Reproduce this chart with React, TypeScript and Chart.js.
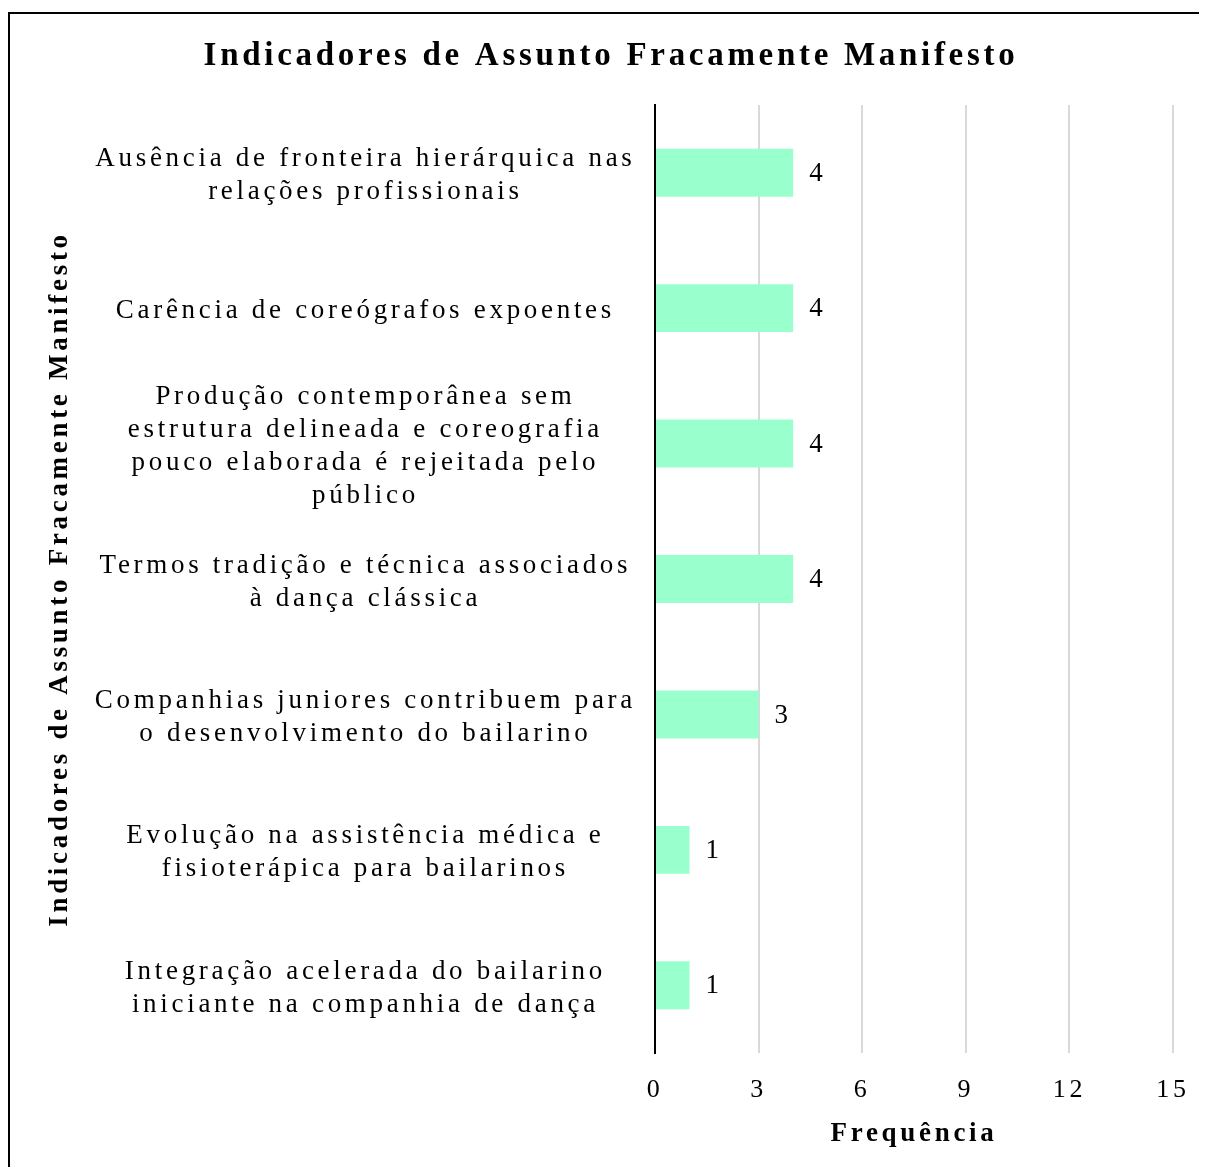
import React, { useEffect, useRef } from "react";
import { Chart, registerables } from "chart.js";

Chart.register(...registerables);

const categories: (string | string[])[] = [
  ["Ausência de fronteira hierárquica nas", "relações profissionais"],
  "Carência de coreógrafos expoentes",
  ["Produção contemporânea sem", "estrutura delineada e coreografia", "pouco elaborada é rejeitada pelo", "público"],
  ["Termos tradição e técnica associados", "à dança clássica"],
  ["Companhias juniores contribuem para", "o desenvolvimento do bailarino"],
  ["Evolução na assistência médica e", "fisioterápica para bailarinos"],
  ["Integração acelerada do bailarino", "iniciante na companhia de dança"],
];
const frequencies: number[] = [4, 4, 4, 4, 3, 1, 1];
const chartTitle = "Indicadores de Assunto Fracamente Manifesto";
const xAxisTitle = "Frequência";
const yAxisTitle = "Indicadores de Assunto Fracamente Manifesto";
const xMin = 0;
const xMax = 15;
const xStep = 3;

const SERIF = "'Liberation Serif', 'Times New Roman', Times, serif";
const SPACING = "3.7px";

const spacingPlugin = {
  id: "spacing",
  beforeUpdate(chart: any) {
    chart.ctx.letterSpacing = SPACING;
  },
  beforeLayout(chart: any) {
    chart.ctx.letterSpacing = SPACING;
  },
  beforeDraw(chart: any) {
    chart.ctx.letterSpacing = SPACING;
  },
};

const valueLabelPlugin = {
  id: "valueLabels",
  afterDatasetsDraw(chart: any) {
    const ctx = chart.ctx;
    const meta = chart.getDatasetMeta(0);
    ctx.save();
    ctx.letterSpacing = "0px";
    ctx.font = `27px ${SERIF}`;
    ctx.fillStyle = "#000";
    ctx.textAlign = "left";
    ctx.textBaseline = "middle";
    meta.data.forEach((bar: any, i: number) => {
      ctx.fillText(String(frequencies[i]), bar.x + 16, bar.y + 1);
    });
    ctx.restore();
  },
};

export default function App() {
  const ref = useRef<HTMLCanvasElement>(null);
  useEffect(() => {
    document.body.style.overflow = "hidden";
    const chart = new Chart(ref.current!, {
      type: "bar",
      data: {
        labels: categories,
        datasets: [
          {
            data: frequencies,
            backgroundColor: "#99ffcc",
            categoryPercentage: 1,
            barPercentage: 0.354,
          },
        ],
      },
      options: {
        indexAxis: "y",
        responsive: false,
        animation: false,
        layout: { padding: { left: 5, right: 0, top: 0, bottom: 0 } },
        plugins: {
          legend: { display: false },
          tooltip: { enabled: false },
          title: {
            display: true,
            text: chartTitle,
            color: "#000",
            font: { family: SERIF, size: 33, weight: "bold", lineHeight: 1.2 },
            padding: { top: 22.2, bottom: 29.2 },
          },
        },
        scales: {
          x: {
            min: xMin,
            max: xMax,
            ticks: {
              stepSize: xStep,
              color: "#000",
              font: { family: SERIF, size: 26, lineHeight: 1.2 },
              padding: 22,
            },
            grid: { color: "#d9d9d9", lineWidth: 2, drawTicks: false },
            border: { display: false },
            title: {
              display: true,
              text: xAxisTitle,
              color: "#000",
              font: { family: SERIF, size: 27, weight: "bold", lineHeight: 1.2 },
              padding: { top: 0, bottom: 20.8 },
            },
            afterFit(scale: any) {
              scale.height = 118;
              scale.paddingLeft = 0;
              scale.paddingRight = 0;
            },
          },
          y: {
            ticks: {
              color: "#000",
              font: { family: SERIF, size: 27, lineHeight: 1.22 },
              padding: 19,
              labelOffset: 3,
              crossAlign: "center",
              autoSkip: false,
            },
            grid: { display: false, drawTicks: false },
            border: { display: true, color: "#000", width: 2 },
            title: {
              display: true,
              text: yAxisTitle,
              color: "#000",
              font: { family: SERIF, size: 27, weight: "bold", lineHeight: 1.2 },
              padding: { top: 28.8, bottom: 0 },
            },
            afterFit(scale: any) {
              scale.width = 640;
            },
          },
          yRightMargin: {
            type: "linear",
            position: "right",
            display: true,
            grid: { display: false, drawTicks: false },
            ticks: { display: false },
            border: { display: false },
            afterFit(scale: any) {
              scale.width = 34;
            },
          },
        },
      },
      plugins: [spacingPlugin, valueLabelPlugin],
    } as any);
    return () => chart.destroy();
  }, []);
  return (
    <div
      style={{
        position: "relative",
        top: 4,
        borderLeft: "2px solid #000",
        borderTop: "2px solid #000",
        width: 1197,
        height: 1157,
        background: "#fff",
      }}
    >
      <canvas ref={ref} width={1197} height={1157} style={{ display: "block" }} />
    </div>
  );
}
